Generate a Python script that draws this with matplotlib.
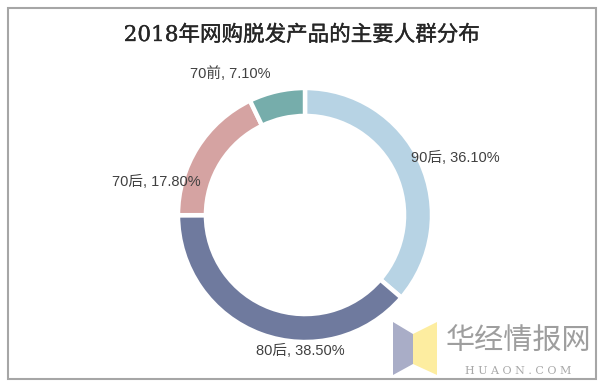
import matplotlib
matplotlib.use('Agg')
import matplotlib.pyplot as plt
import matplotlib.patheffects as pe
from matplotlib.patches import Rectangle, Polygon

plt.rcParams['font.family'] = ['Noto Sans CJK SC', 'DejaVu Sans']

# Data
groups = ['90后', '80后', '70后', '70前']
shares = [36.10, 38.50, 17.80, 7.10]
colors = ['#b7d3e4', '#6f7a9e', '#d5a3a2', '#76adab']
title = '2018年网购脱发产品的主要人群分布'

# label placement (axes data units, radius = 1)
label_xy = [(1.18, 0.45), (-0.04, -1.07), (-1.17, 0.26), (-0.59, 1.11)]

W, H = 603, 387
fig = plt.figure(figsize=(W / 100, H / 100), dpi=100)

# donut: center (305, 215) px, radius 127 px
cx, cy, r = 305, 215, 127
ax = fig.add_axes([(cx - r) / W, (H - cy - r) / H, 2 * r / W, 2 * r / H])
ax.pie(shares, colors=colors, startangle=90, counterclock=False, radius=1,
       wedgeprops=dict(width=0.22, edgecolor='white', linewidth=3.2))
ax.set_xlim(-1, 1)
ax.set_ylim(-1, 1)
ax.set_aspect('equal')
ax.axis('off')

for g, s, (x, y) in zip(groups, shares, label_xy):
    ax.text(x, y, f'{g}, {s:.2f}%', ha='center', va='center', fontsize=10.5,
            color='#404040', clip_on=False,
            family=['Liberation Sans', 'Noto Sans CJK SC'])

# title (regular weight, slightly thickened)
fig.text(0.5, 1 - 35 / H, title, ha='center', va='center', fontsize=15.5,
         color='#262626', family=['DejaVu Serif', 'Noto Sans CJK SC'],
         path_effects=[pe.withStroke(linewidth=0.25, foreground='#262626')])

# frame
fig.patches.append(Rectangle((8 / W, 8 / H), 588 / W, 371 / H, transform=fig.transFigure,
                             fill=False, edgecolor='#a6a6a6', linewidth=1.5))


# watermark logo
def px(pts):
    return [(x / W, 1 - y / H) for x, y in pts]


fig.patches.append(Polygon(px([(393, 322), (413, 334), (413, 364), (393, 375)]),
                           closed=True, transform=fig.transFigure,
                           facecolor='#a9adc7', edgecolor='none'))
fig.patches.append(Polygon(px([(413, 334), (437, 322), (437, 375), (413, 364)]),
                           closed=True, transform=fig.transFigure,
                           facecolor='#fdeda0', edgecolor='none'))
fig.text(518 / W, 1 - 342 / H, '华经情报网', ha='center', va='center', fontsize=21,
         color='#9e9e9e')
fig.text(518 / W, 1 - 371 / H, 'H U A O N . C O M', ha='center', va='center',
         fontsize=8, color='#a8a8a8', family='DejaVu Serif')

fig.savefig('out.png', dpi=100, facecolor='white')
